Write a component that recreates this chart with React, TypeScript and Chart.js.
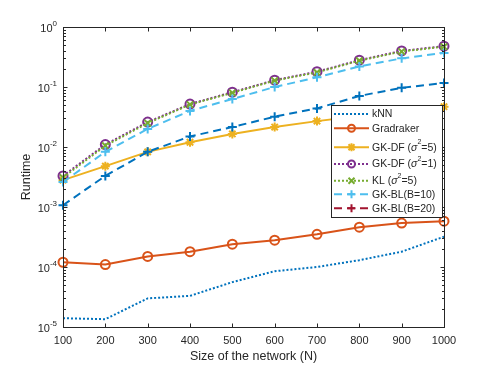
import React, { useEffect, useRef } from 'react';
import { Chart, registerables } from 'chart.js';
Chart.register(...registerables);

const sizes = [100, 200, 300, 400, 500, 600, 700, 800, 900, 1000];
const knn = [1.4e-5, 1.35e-5, 3.0e-5, 3.3e-5, 5.6e-5, 8.5e-5, 1.0e-4, 1.3e-4, 1.8e-4, 3.2e-4];
const gradraker = [1.2e-4, 1.1e-4, 1.5e-4, 1.8e-4, 2.4e-4, 2.8e-4, 3.5e-4, 4.6e-4, 5.4e-4, 5.8e-4];
const gkdf5 = [2.8e-3, 4.8e-3, 8.3e-3, 1.2e-2, 1.65e-2, 2.15e-2, 2.7e-2, 3.3e-2, 4.0e-2, 4.7e-2];
const gkdf1 = [3.3e-3, 1.1e-2, 2.6e-2, 5.2e-2, 8.2e-2, 0.13, 0.18, 0.28, 0.4, 0.48];
const kl5 = [3.1e-3, 1.05e-2, 2.5e-2, 5.1e-2, 8.0e-2, 0.128, 0.175, 0.275, 0.39, 0.47];
const gkbl10 = [2.6e-3, 8.3e-3, 2.0e-2, 4.0e-2, 6.3e-2, 0.1, 0.145, 0.22, 0.3, 0.37];
const gkbl20 = [1.07e-3, 3.3e-3, 8.3e-3, 1.5e-2, 2.15e-2, 3.2e-2, 4.4e-2, 7.1e-2, 0.097, 0.117];

const xTicks = [100, 200, 300, 400, 500, 600, 700, 800, 900, 1000];
const yExponents = [0, -1, -2, -3, -4, -5];
const xTitle = 'Size of the network (N)';
const yTitle = 'Runtime';

type Seg = { t: string; italic?: boolean; sup?: boolean };
type Entry = { segs: Seg[]; color: string; dash: number[]; marker: string | null };

const legendEntries: Entry[] = [
  { segs: [{ t: 'kNN' }], color: '#0072BD', dash: [2, 2], marker: null },
  { segs: [{ t: 'Gradraker' }], color: '#D95319', dash: [], marker: 'circle' },
  { segs: [{ t: 'GK-DF (' }, { t: 'σ', italic: true }, { t: '2', sup: true }, { t: '=5)' }], color: '#EDB120', dash: [], marker: 'star' },
  { segs: [{ t: 'GK-DF (' }, { t: 'σ', italic: true }, { t: '2', sup: true }, { t: '=1)' }], color: '#7E2F8E', dash: [2, 2], marker: 'circle' },
  { segs: [{ t: 'KL (' }, { t: 'σ', italic: true }, { t: '2', sup: true }, { t: '=5)' }], color: '#77AC30', dash: [2, 2], marker: 'crossRot' },
  { segs: [{ t: 'GK-BL(B=10)' }], color: '#4DBEEE', dash: [8, 5], marker: 'cross' },
  { segs: [{ t: 'GK-BL(B=20)' }], color: '#A2142F', dash: [8, 5], marker: 'cross' },
];

const FONT = '"Liberation Sans", Arial, Helvetica, sans-serif';
const TXT = '#262626';

function drawMarker(ctx: CanvasRenderingContext2D, kind: string, x: number, y: number, r: number) {
  ctx.beginPath();
  if (kind === 'circle') {
    ctx.arc(x, y, r, 0, Math.PI * 2);
  } else if (kind === 'cross') {
    ctx.moveTo(x - r, y); ctx.lineTo(x + r, y);
    ctx.moveTo(x, y - r); ctx.lineTo(x, y + r);
  } else if (kind === 'crossRot') {
    const d = r * 0.75;
    ctx.moveTo(x - d, y - d); ctx.lineTo(x + d, y + d);
    ctx.moveTo(x - d, y + d); ctx.lineTo(x + d, y - d);
  } else if (kind === 'star') {
    const d = r * 0.75;
    ctx.moveTo(x - r, y); ctx.lineTo(x + r, y);
    ctx.moveTo(x, y - r); ctx.lineTo(x, y + r);
    ctx.moveTo(x - d, y - d); ctx.lineTo(x + d, y + d);
    ctx.moveTo(x - d, y + d); ctx.lineTo(x + d, y - d);
  }
  ctx.stroke();
}

const axesPlugin = {
  id: 'matlabAxes',
  afterDraw(chart: any) {
    const ctx: CanvasRenderingContext2D = chart.ctx;
    const { left, right, top, bottom } = chart.chartArea;
    const xs = chart.scales.x;
    const ys = chart.scales.y;
    ctx.save();
    // box
    ctx.strokeStyle = '#262626';
    ctx.lineWidth = 1;
    ctx.setLineDash([]);
    const L = Math.round(left) + 0.5, R = Math.round(right) + 0.5;
    const T = Math.round(top) + 0.5, B = Math.round(bottom) + 0.5;
    ctx.strokeRect(L, T, R - L, B - T);
    // x ticks
    ctx.beginPath();
    xTicks.forEach((v) => {
      const px = Math.round(xs.getPixelForValue(v)) + 0.5;
      ctx.moveTo(px, B); ctx.lineTo(px, B - 4);
      ctx.moveTo(px, T); ctx.lineTo(px, T + 4);
    });
    // y ticks
    for (let e = -5; e <= 0; e++) {
      const py = Math.round(ys.getPixelForValue(Math.pow(10, e))) + 0.5;
      ctx.moveTo(L, py); ctx.lineTo(L + 4, py);
      ctx.moveTo(R, py); ctx.lineTo(R - 4, py);
      if (e < 0) {
        for (let m = 2; m <= 9; m++) {
          const pm = Math.round(ys.getPixelForValue(m * Math.pow(10, e))) + 0.5;
          ctx.moveTo(L, pm); ctx.lineTo(L + 2.5, pm);
          ctx.moveTo(R, pm); ctx.lineTo(R - 2.5, pm);
        }
      }
    }
    ctx.stroke();

    // x tick labels
    ctx.fillStyle = TXT;
    ctx.font = `11px ${FONT}`;
    ctx.textAlign = 'center';
    ctx.textBaseline = 'middle';
    xTicks.forEach((v) => {
      ctx.fillText(String(v), xs.getPixelForValue(v), bottom + 14);
    });
    // y tick labels
    yExponents.forEach((e) => {
      const py = ys.getPixelForValue(Math.pow(10, e));
      const sup = String(e);
      ctx.font = `8px ${FONT}`;
      const sw = ctx.measureText(sup).width;
      const xEnd = left - 6;
      ctx.textAlign = 'left';
      ctx.textBaseline = 'alphabetic';
      ctx.fillText(sup, xEnd - sw, py - 1);
      ctx.font = `11px ${FONT}`;
      ctx.textAlign = 'right';
      ctx.fillText('10', xEnd - sw, py + 5);
    });
    // titles
    ctx.font = `12.5px ${FONT}`;
    ctx.textAlign = 'center';
    ctx.textBaseline = 'middle';
    ctx.fillText(xTitle, (left + right) / 2, bottom + 30);
    ctx.save();
    ctx.translate(27, (top + bottom) / 2);
    ctx.rotate(-Math.PI / 2);
    ctx.fillText(yTitle, 0, 0);
    ctx.restore();

    // legend
    const bx = 331.5, by = 105.5, bw = 111, bh = 112;
    ctx.fillStyle = '#ffffff';
    ctx.fillRect(bx, by, bw, bh);
    ctx.strokeStyle = '#262626';
    ctx.lineWidth = 1;
    ctx.strokeRect(bx, by, bw, bh);
    const rows = [114, 128.3, 147.3, 164, 180.7, 194.3, 208.3];
    legendEntries.forEach((en, i) => {
      const y = rows[i];
      ctx.strokeStyle = en.color;
      ctx.lineWidth = 2;
      ctx.setLineDash(en.dash);
      ctx.beginPath();
      ctx.moveTo(334, y); ctx.lineTo(369, y);
      ctx.stroke();
      ctx.setLineDash([]);
      if (en.marker) {
        drawMarker(ctx, en.marker, 351.5, y, en.marker === 'circle' ? 3.5 : 4);
      }
      let x = 372;
      ctx.fillStyle = TXT;
      ctx.textAlign = 'left';
      ctx.textBaseline = 'middle';
      en.segs.forEach((s) => {
        if (s.sup) {
          ctx.font = `7px ${FONT}`;
          ctx.fillText(s.t, x, y - 5);
        } else {
          ctx.font = `${s.italic ? 'italic ' : ''}10.5px ${FONT}`;
          ctx.fillText(s.t, x, y + 0.5);
        }
        x += ctx.measureText(s.t).width;
      });
    });
    ctx.restore();
  },
};

function ds(label: string, arr: number[], color: string, dash: number[], style: any, radius: number, order: number) {
  return {
    label,
    data: sizes.map((x, i) => ({ x, y: arr[i] })),
    borderColor: color,
    backgroundColor: 'transparent',
    borderWidth: 2,
    borderDash: dash,
    pointStyle: style,
    pointRadius: style ? radius : 0,
    pointBorderWidth: 2,
    pointBorderColor: color,
    pointBackgroundColor: 'transparent',
    tension: 0,
    clip: 10,
    order,
  };
}

export default function App() {
  const ref = useRef<HTMLCanvasElement | null>(null);
  useEffect(() => {
    if (!ref.current) return;
    const chart = new Chart(ref.current, {
      type: 'line',
      data: {
        datasets: [
          ds('kNN', knn, '#0072BD', [2, 2], false, 0, 7),
          ds('Gradraker', gradraker, '#D95319', [], 'circle', 4.5, 6),
          ds('GK-DF (σ2=5)', gkdf5, '#EDB120', [], 'star', 4.5, 5),
          ds('GK-DF (σ2=1)', gkdf1, '#7E2F8E', [2, 2], 'circle', 4.5, 4),
          ds('KL (σ2=5)', kl5, '#77AC30', [2, 2], 'crossRot', 4.5, 3),
          ds('GK-BL(B=10)', gkbl10, '#4DBEEE', [8, 5], 'cross', 4.5, 2),
          ds('GK-BL(B=20)', gkbl20, '#0072BD', [8, 5], 'cross', 4.5, 1),
        ] as any,
      },
      options: {
        animation: false,
        responsive: false,
        devicePixelRatio: 1,
        layout: { padding: { top: 27, right: 47, left: 0, bottom: 0 } },
        plugins: { legend: { display: false }, tooltip: { enabled: false } },
        scales: {
          x: {
            type: 'linear',
            min: 100,
            max: 1000,
            grid: { display: false },
            border: { display: false },
            ticks: { display: false },
            afterFit: (s: any) => { s.height = 41; },
          },
          y: {
            type: 'logarithmic',
            min: 1e-5,
            max: 1,
            grid: { display: false },
            border: { display: false },
            ticks: { display: false },
            afterFit: (s: any) => { s.width = 63; },
          },
        },
      } as any,
      plugins: [axesPlugin],
    });
    return () => chart.destroy();
  }, []);
  return (
    <canvas
      ref={ref}
      width={491}
      height={368}
      style={{ position: 'absolute', left: 0, top: 0, width: 491, height: 368 }}
    />
  );
}
